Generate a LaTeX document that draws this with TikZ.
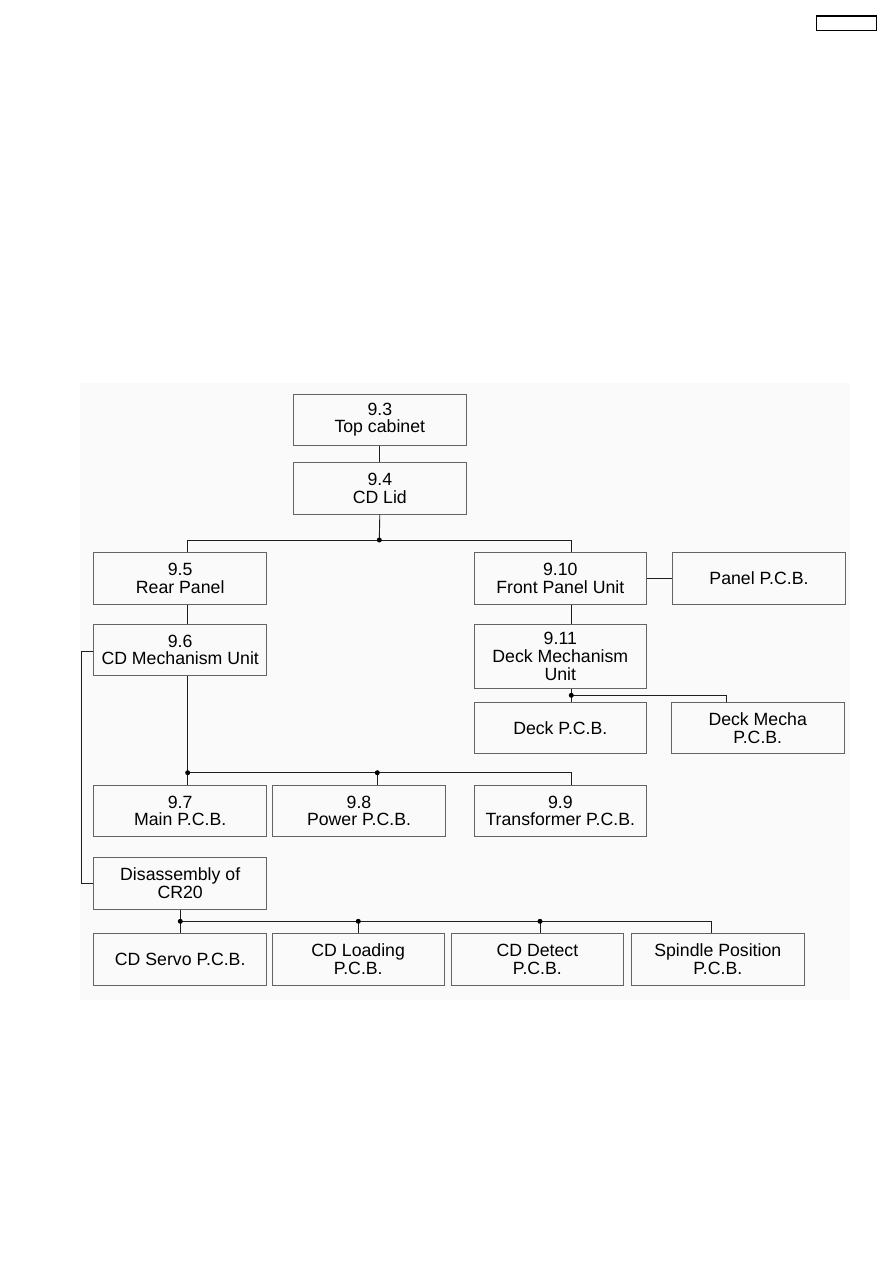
\documentclass[tikz,border=0pt]{standalone}
\usepackage{fontspec}
\setmainfont{Liberation Sans}
\definecolor{bordergray}{RGB}{100,100,100}
\definecolor{linecol}{RGB}{30,30,30}
\definecolor{bggray}{RGB}{250,250,250}
\begin{document}
\begin{tikzpicture}[x=1pt,y=-1pt,
  box/.style={draw=bordergray, line width=0.9pt, rectangle, inner sep=0pt, align=center,
    minimum width=173pt, minimum height=51.4pt, font=\fontsize{17.7}{17.6}\selectfont},
  conn/.style={draw=linecol, line width=0.9pt},
  jdot/.style={circle, fill=black, inner sep=0pt, minimum size=5pt}]
\useasboundingbox (0,0) rectangle (893,1263);
\fill[bggray] (80,383) rectangle (850,1000);
\node[draw=black, line width=1.2pt, minimum width=60pt, minimum height=14.3pt, inner sep=0pt] (hdr) at (846.3,23.2) {};

\node[box] (top) at (379.8,419.7) {9.3\\Top cabinet};
\node[box] (lid) at (379.8,488.5) {9.4\\CD Lid};
\node[box] (rear) at (180.2,578.5) {9.5\\Rear Panel};
\node[box, minimum width=172pt] (front) at (560.3,578.5) {9.10\\Front Panel Unit};
\node[box, minimum width=173.4pt] (panel) at (759,578.5) {Panel P.C.B.};
\node[box] (cdmech) at (180.2,649.7) {9.6\\CD Mechanism Unit};
\node[box, minimum width=172pt, minimum height=64.7pt] (deckmech) at (560.3,656.3) {9.11\\Deck Mechanism\\Unit};
\node[box, minimum width=172pt] (deckpcb) at (560.3,728) {Deck P.C.B.};
\node[box, minimum width=172.7pt] (deckmecha) at (757.7,728) {Deck Mecha\\P.C.B.};
\node[box] (main) at (180.2,810.7) {9.7\\Main P.C.B.};
\node[box, minimum width=173.4pt] (power) at (359,810.7) {9.8\\Power P.C.B.};
\node[box, minimum width=172pt] (trans) at (560.3,810.7) {9.9\\Transformer P.C.B.};
\node[box, minimum height=51.7pt] (dis) at (180.2,883.2) {Disassembly of\\CR20};
\node[box, minimum height=51.7pt] (servo) at (180.2,959.2) {CD Servo P.C.B.};
\node[box, minimum width=172.3pt, minimum height=51.7pt] (loading) at (358.2,959.2) {CD Loading\\P.C.B.};
\node[box, minimum width=172.7pt, minimum height=51.7pt] (detect) at (537.4,959.2) {CD Detect\\P.C.B.};
\node[box, minimum height=51.7pt] (spindle) at (717.8,959.2) {Spindle Position\\P.C.B.};

% junction coordinates
\coordinate (j1) at (379.3,540);
\coordinate (j1L) at (187.7,540);
\coordinate (j1R) at (571.3,540);
\coordinate (j2) at (187.7,772.7);
\coordinate (j2M) at (377.3,772.7);
\coordinate (j2R) at (571.3,772.7);
\coordinate (j3) at (571.3,695.3);
\coordinate (j3R) at (726.7,695.3);
\coordinate (j4) at (180.3,921.3);
\coordinate (j4a) at (358.3,921.3);
\coordinate (j4b) at (540,921.3);
\coordinate (j4R) at (711.7,921.3);
\coordinate (sideL) at (81,651);

% connectors
\draw[conn] (top.south) -- (lid.north);
\draw[conn] (lid.south) -- (j1);
\draw[conn] (rear.north -| j1L) |- (j1R) -- (front.north -| j1R);
\draw[conn] (rear.south -| j1L) -- (cdmech.north -| j1L);
\draw[conn] (front.south -| j1R) -- (deckmech.north -| j1R);
\draw[conn] (front.east |- panel.west) -- (panel.west);
\draw[conn] (cdmech.south -| j2) -- (j2) -- (main.north -| j2);
\draw[conn] (j2) -- (j2R) -- (trans.north -| j2R);
\draw[conn] (j2M) -- (power.north -| j2M);
\draw[conn] (deckmech.south -| j3) -- (deckpcb.north -| j3);
\draw[conn] (j3) -- (j3R) -- (deckmecha.north -| j3R);
\draw[conn] (cdmech.west |- sideL) -- (sideL) |- (dis.west);
\draw[conn] (dis.south -| j4) -- (servo.north -| j4);
\draw[conn] (j4) -- (j4R) -- (spindle.north -| j4R);
\draw[conn] (j4a) -- (loading.north -| j4a);
\draw[conn] (j4b) -- (detect.north -| j4b);

\foreach \p/\n in {j1/d1,j2/d2,j2M/d3,j3/d4,j4/d5,j4a/d6,j4b/d7}
  \node[jdot] (\n) at (\p) {};
\end{tikzpicture}
\end{document}
